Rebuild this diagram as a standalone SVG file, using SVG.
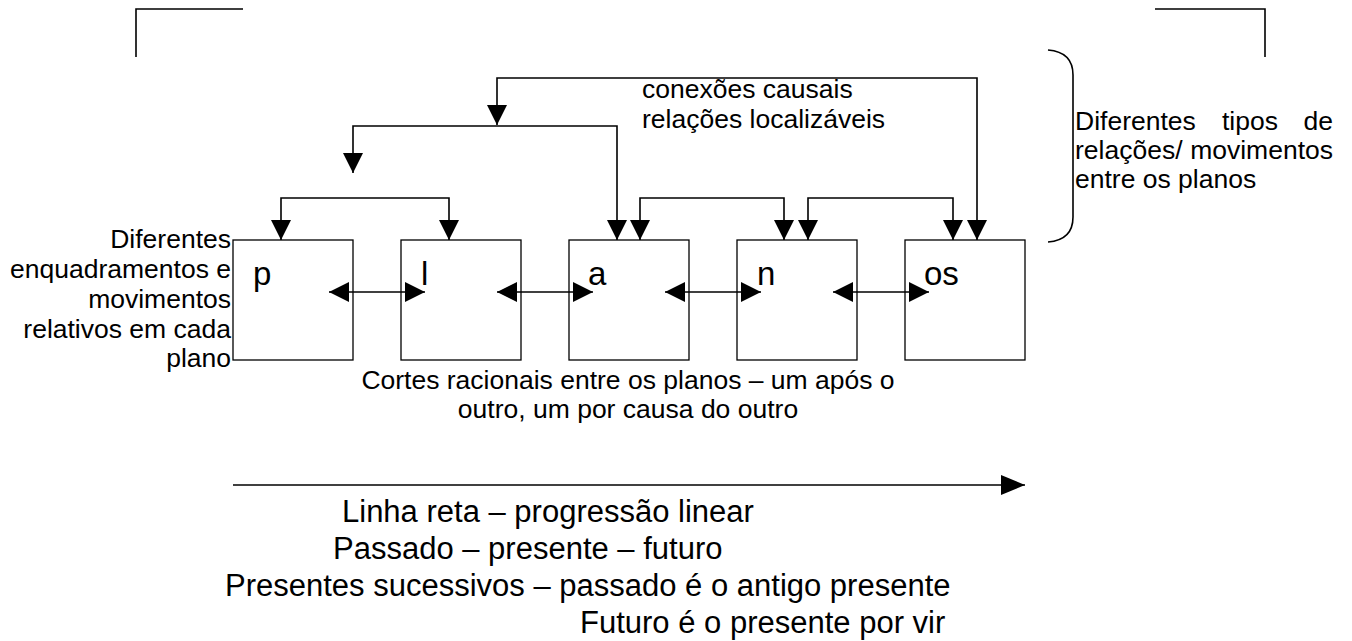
<svg xmlns="http://www.w3.org/2000/svg" width="1352" height="641" viewBox="0 0 1352 641">
<style>
text { font-family: "Liberation Sans", Arial, sans-serif; fill: #000; }
.lbl { font-size: 26.5px; }
.big { font-size: 31px; }
.let { font-size: 33px; }
.box { fill: #fff; stroke: #000; stroke-width: 1.3; }
.con { fill: none; stroke: #000; stroke-width: 1.6; }
.frame { fill: none; stroke: #000; stroke-width: 1.6; }
</style>
<defs>
<marker id="ah" markerUnits="userSpaceOnUse" markerWidth="20" markerHeight="20" refX="20" refY="10" orient="auto-start-reverse" viewBox="0 0 20 20">
<path d="M0,0 L20,10 L0,20 z" fill="#000"/>
</marker>
<marker id="ahl" markerUnits="userSpaceOnUse" markerWidth="24" markerHeight="20" refX="24" refY="10" orient="auto" viewBox="0 0 24 20">
<path d="M0,0 L24,10 L0,20 z" fill="#000"/>
</marker>
</defs>
<rect width="1352" height="641" fill="#fff"/>

<g id="frame">
<path class="frame" d="M136,57 V9 H243"/>
<path class="frame" d="M1155,9 H1265 V57"/>
<path class="frame" d="M1048,50 Q1073,52 1073,75 V217 Q1073,240 1048,242"/>
</g>

<g id="node-p"><rect class="box" x="233" y="240" width="120" height="120"/><text class="let" x="253" y="285">p</text></g>
<g id="node-l"><rect class="box" x="401" y="240" width="120" height="120"/><text class="let" x="421" y="285">l</text></g>
<g id="node-a"><rect class="box" x="569" y="240" width="120" height="120"/><text class="let" x="588" y="285">a</text></g>
<g id="node-n"><rect class="box" x="737" y="240" width="120" height="120"/><text class="let" x="757" y="285">n</text></g>
<g id="node-os"><rect class="box" x="905" y="240" width="120" height="120"/><text class="let" x="924" y="285">os</text></g>

<g id="connectors">
<path class="con" d="M977,240 V78 H497 V125" marker-start="url(#ah)" marker-end="url(#ah)"/>
<path class="con" d="M617,240 V126 H353 V173" marker-start="url(#ah)" marker-end="url(#ah)"/>
<path class="con" d="M281,240 V198 H449 V240" marker-start="url(#ah)" marker-end="url(#ah)"/>
<path class="con" d="M640,240 V198 H784 V240" marker-start="url(#ah)" marker-end="url(#ah)"/>
<path class="con" d="M808,240 V198 H953 V240" marker-start="url(#ah)" marker-end="url(#ah)"/>
<path class="con" d="M329,292 H425" marker-start="url(#ah)" marker-end="url(#ah)"/>
<path class="con" d="M497,292 H593" marker-start="url(#ah)" marker-end="url(#ah)"/>
<path class="con" d="M665,292 H761" marker-start="url(#ah)" marker-end="url(#ah)"/>
<path class="con" d="M833,292 H929" marker-start="url(#ah)" marker-end="url(#ah)"/>
<path class="con" d="M233,485 H1025" marker-end="url(#ahl)"/>
</g>

<g id="label-top">
<text class="lbl" x="642" y="98">conexões causais</text>
<text class="lbl" x="642" y="128">relações localizáveis</text>
</g>

<g id="label-left" text-anchor="end">
<text class="lbl" x="231" y="248">Diferentes</text>
<text class="lbl" x="231" y="278">enquadramentos e</text>
<text class="lbl" x="231" y="308">movimentos</text>
<text class="lbl" x="231" y="338">relativos em cada</text>
<text class="lbl" x="231" y="367">plano</text>
</g>

<g id="label-right">
<text class="lbl" y="130"><tspan x="1075">Diferentes</tspan><tspan x="1222">tipos</tspan><tspan x="1333" text-anchor="end">de</tspan></text>
<text class="lbl" y="159"><tspan x="1075">relações/</tspan><tspan x="1333" text-anchor="end">movimentos</tspan></text>
<text class="lbl" x="1075" y="188">entre os planos</text>
</g>

<g id="label-cuts" text-anchor="middle">
<text class="lbl" x="628" y="389">Cortes racionais entre os planos – um após o</text>
<text class="lbl" x="628" y="418">outro, um por causa do outro</text>
</g>

<g id="label-bottom">
<text class="big" x="342" y="522">Linha reta – progressão linear</text>
<text class="big" x="333" y="559">Passado – presente – futuro</text>
<text class="big" x="225" y="596">Presentes sucessivos – passado é o antigo presente</text>
<text class="big" x="580" y="633">Futuro é o presente por vir</text>
</g>
</svg>
